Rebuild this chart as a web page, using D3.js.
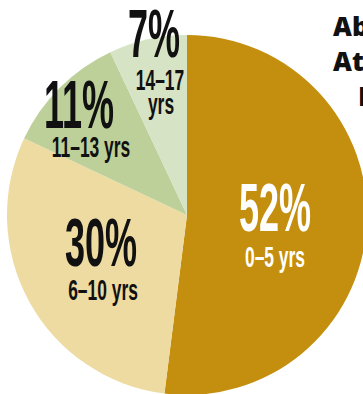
<!DOCTYPE html>
<html>
<head>
<meta charset="utf-8">
<script src="https://cdn.jsdelivr.net/npm/d3@7"></script>
<style>
  html, body { margin: 0; padding: 0; background: #fff; overflow: hidden; }
  svg { display: block; }
</style>
</head>
<body>
<svg id="chart" width="363" height="394"></svg>
<script>
// Data
const categories = ["0–5 yrs", "6–10 yrs", "11–13 yrs", "14–17 yrs"];
const values = [52, 30, 11, 7];
const colors = ["#C48F0F", "#EEDBA2", "#BDD09A", "#D7E3C5"];
const titleLines = ["Ab", "At-", "I"];

const W = 363, H = 394;
const cx = 187, cy = 215, r = 180;

const svg = d3.select("#chart");
const g = svg.append("g").attr("transform", `translate(${cx},${cy})`);

const pie = d3.pie().sort(null).value(d => d)(values);
const arc = d3.arc().innerRadius(0).outerRadius(r);

g.selectAll("path").data(pie).enter().append("path")
  .attr("d", arc)
  .attr("fill", (d, i) => colors[i]);

// Label layout (offsets relative to pie center), styling only
const labelPos = [
  { px: 88, py: 16, sub: [{ t: "0–5 yrs", dx: 0, dy: 52 }], fill: "#fff" },
  { px: -86, py: 51, sub: [{ t: "6–10 yrs", dx: 2, dy: 85 }], fill: "#111" },
  { px: -108, py: -87, sub: [{ t: "11–13 yrs", dx: 12, dy: -58 }], fill: "#111" },
  { px: -33, py: -158, sub: [{ t: "14–17", dx: 6, dy: -125 }, { t: "yrs", dx: 7, dy: -101 }], fill: "#111" }
];

const pctScale = 0.53, subScale = 0.58;
const pctFont = "'Liberation Sans', Arial, sans-serif";

pie.forEach((d, i) => {
  const lp = labelPos[i];
  const pctG = g.append("g").attr("transform", `translate(${lp.px},${lp.py}) scale(${pctScale},1)`);
  pctG.append("text")
    .attr("text-anchor", "middle")
    .attr("font-family", pctFont)
    .attr("font-weight", 700)
    .attr("font-size", 68)
    .attr("fill", lp.fill)
    .text(values[i] + "%");
  lp.sub.forEach(s => {
    const sg = g.append("g").attr("transform", `translate(${lp.px + s.dx},${s.dy}) scale(${subScale},1)`);
    sg.append("text")
      .attr("text-anchor", "middle")
      .attr("font-family", pctFont)
      .attr("font-weight", 700)
      .attr("font-size", 30)
      .attr("fill", lp.fill)
      .text(s.t);
  });
});

// Title (clipped by right edge)
const titleX = [333, 333, 358];
const titleY = [36, 71, 106];
titleLines.forEach((t, i) => {
  svg.append("text")
    .attr("x", titleX[i])
    .attr("y", titleY[i])
    .attr("font-family", "'Open Sans', sans-serif")
    .attr("font-weight", 800)
    .attr("font-size", 26)
    .attr("fill", "#111")
    .text(t);
});
</script>
</body>
</html>
